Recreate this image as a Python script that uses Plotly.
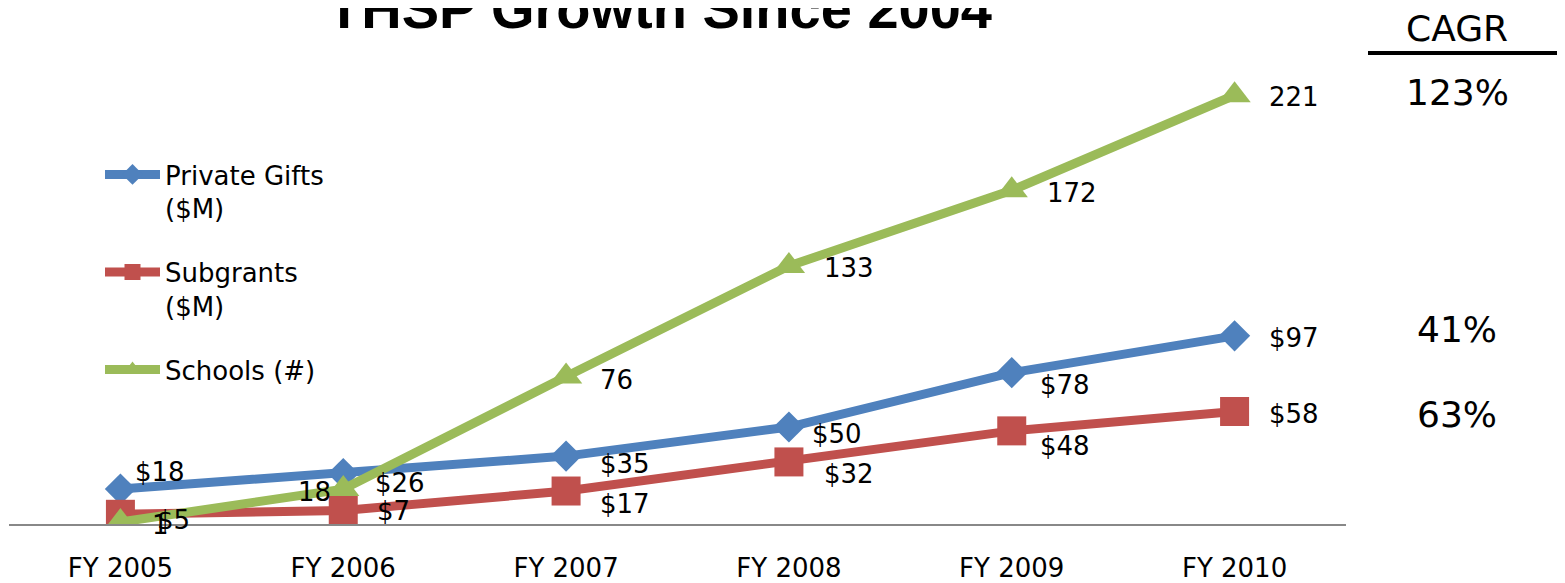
import plotly.graph_objects as go

# ---- data ----
years = ["FY 2005", "FY 2006", "FY 2007", "FY 2008", "FY 2009", "FY 2010"]
private_gifts = [18, 26, 35, 50, 78, 97]
subgrants = [5, 7, 17, 32, 48, 58]
schools = [1, 18, 76, 133, 172, 221]
cagr_schools = "123%"
cagr_gifts = "41%"
cagr_subgrants = "63%"

# ---- style ----
OFF = 8  # page body margin
W, H = 1565 - OFF, 583 - OFF
ML, MR, MT, MB = 1, 219, 31, 59
PW, PH = W - ML - MR, H - MT - MB
PLOT_LEFT_SCR, PLOT_BOTTOM_SCR = ML + OFF, MT + OFF + PH
BLUE, RED, GREEN = "#4F81BD", "#C0504D", "#9BBB59"
LBL_FONT = dict(family="DejaVu Sans", size=26, color="black")

def px_x(p):
    return (p - PLOT_LEFT_SCR) / PW

def px_y(q):
    return (PLOT_BOTTOM_SCR - q) / PH

fig = go.Figure()
series = [
    ("Private Gifts<br>($M)", private_gifts, BLUE, "diamond", 24),
    ("Subgrants<br>($M)", subgrants, RED, "square", 29),
    ("Schools (#)", schools, GREEN, "triangle-up", 28),
]
for i, (name, vals, col, sym, msz) in enumerate(series):
    fig.add_trace(go.Scatter(
        x=years, y=vals, name=name, mode="lines+markers",
        line=dict(color=col, width=9),
        marker=dict(symbol=sym, size=msz, color=col),
        legendgroup=str(i), hoverinfo="skip",
    ))

# label offsets (dx, dy, anchor) in pixels
offs_gifts = [(13, -17, "left"), (30, 9, "left"), (32, 8, "left"), (21, 7, "left"), (26, 12, "left"), (32, 2, "left")]
offs_sub = [(35, 6, "left"), (32, 1, "left"), (32, 13, "left"), (33, 12, "left"), (26, 15, "left"), (32, 3, "left")]
offs_sch = [(30, 3, "left"), (-10, 3, "right"), (32, 3, "left"), (33, 2, "left"), (33, 3, "left"), (32, 2, "left")]

ann = []
for vals, offs, fmt in [(private_gifts, offs_gifts, "${}"), (subgrants, offs_sub, "${}"), (schools, offs_sch, "{}")]:
    for xcat, v, (dx, dy, anc) in zip(years, vals, offs):
        ann.append(dict(x=xcat, y=v, xref="x", yref="y", text=fmt.format(v),
                        showarrow=False, xanchor=anc, yanchor="middle",
                        xshift=dx, yshift=-dy, font=LBL_FONT))

# title
ann.append(dict(x=px_x(659), y=px_y(8), xref="paper", yref="paper",
                text="<b>THSP Growth Since 2004</b>", showarrow=False,
                xanchor="center", yanchor="middle",
                font=dict(family="Liberation Sans", size=56, color="black")))
# CAGR column
CFONT = dict(family="DejaVu Sans", size=36, color="black")
ann.append(dict(x=px_x(1457), y=px_y(28), xref="paper", yref="paper", text="CAGR",
                showarrow=False, xanchor="center", yanchor="middle", font=CFONT))
for txt, vals, dy in [(cagr_schools, schools, -3), (cagr_gifts, private_gifts, -6), (cagr_subgrants, subgrants, 3)]:
    ann.append(dict(x=px_x(1457), y=vals[-1], xref="paper", yref="y", text=txt,
                    showarrow=False, xanchor="center", yanchor="middle",
                    yshift=-dy, font=CFONT))

fig.update_layout(
    width=W, height=H,
    margin=dict(l=ML, r=MR, t=MT, b=MB, pad=0, autoexpand=False),
    paper_bgcolor="white", plot_bgcolor="white",
    annotations=ann,
    shapes=[dict(type="line", xref="paper", yref="paper",
                 x0=px_x(1368), x1=px_x(1570), y0=px_y(53), y1=px_y(53),
                 line=dict(color="black", width=4))],
    showlegend=True,
    legend=dict(x=px_x(100), y=px_y(151), xanchor="left", yanchor="top",
                font=dict(family="DejaVu Sans", size=26, color="black"),
                itemwidth=55, tracegroupgap=27, valign="top",
                bgcolor="rgba(0,0,0,0)"),
    xaxis=dict(type="category", range=[-0.5, 5.5], showgrid=False, zeroline=False,
               showline=True, linecolor="#888888", linewidth=2, automargin=False,
               ticks="outside", ticklen=20, tickcolor="rgba(0,0,0,0)",
               tickfont=dict(family="DejaVu Sans", size=26, color="black")),
    yaxis=dict(range=[0, 250], visible=False, showgrid=False, zeroline=False),
)

fig.write_html("out.html")
